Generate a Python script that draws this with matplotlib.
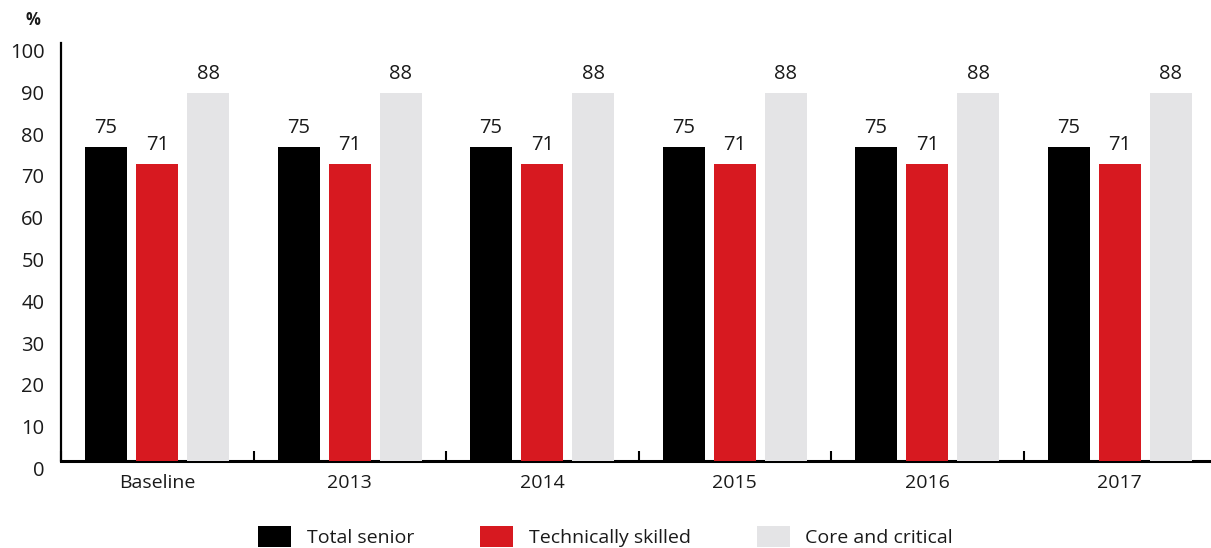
import numpy as np
import matplotlib
matplotlib.use("Agg")
import matplotlib.pyplot as plt
from matplotlib.patches import Patch
from matplotlib.transforms import ScaledTranslation

plt.rcParams['font.family'] = ['Open Sans', 'DejaVu Sans']

categories = ["Baseline", "2013", "2014", "2015", "2016", "2017"]
series_names = ["Total senior", "Technically skilled", "Core and critical"]
total_senior = [75, 75, 75, 75, 75, 75]
technically_skilled = [71, 71, 71, 71, 71, 71]
core_and_critical = [88, 88, 88, 88, 88, 88]
y_ticks = [0, 10, 20, 30, 40, 50, 60, 70, 80, 90, 100]

colors = ["#000000", "#d71920", "#e4e4e6"]
text_color = "#1a1a1a"

W, H = 1211, 548
fig = plt.figure(figsize=(W / 100, H / 100), dpi=100)
ax = fig.add_axes([61 / W, (H - 461) / H, (1216 - 61) / W, (461 - 43) / H])

x = np.arange(len(categories))
bar_w = 0.218
offsets = [-0.266, 0.0, 0.266]
all_series = [total_senior, technically_skilled, core_and_critical]

for vals, off, col, name in zip(all_series, offsets, colors, series_names):
    bars = ax.bar(x + off, vals, width=bar_w, color=col, zorder=3, label=name)
    for b, v in zip(bars, vals):
        ax.annotate(f"{v}", (b.get_x() + b.get_width() / 2, v),
                    xytext=(0, 6.5), textcoords="offset points",
                    ha="center", va="bottom", fontsize=14.5, color=text_color)

ax.set_xlim(-0.5, len(categories) - 0.5)
ax.set_ylim(0, 100)

for s in ["top", "right"]:
    ax.spines[s].set_visible(False)
ax.spines["left"].set_linewidth(1.6)
ax.spines["bottom"].set_linewidth(2.2)
ax.spines["left"].set_color("#000000")
ax.spines["bottom"].set_color("#000000")
ax.spines["bottom"].set_zorder(2)

# y axis: labels only, nudged slightly below their gridline
ax.set_yticks(y_ticks)
ax.tick_params(axis="y", length=0, pad=12, labelsize=14.5, labelcolor=text_color)
for lab in ax.get_yticklabels():
    lab.set_transform(lab.get_transform() + ScaledTranslation(0, -0.075, fig.dpi_scale_trans))

# x axis: small inward ticks between groups, labels at group centres
ax.set_xticks(x)
ax.set_xticklabels(categories)
ax.tick_params(axis="x", length=0, pad=9, labelsize=14, labelcolor=text_color)
ax.set_xticks(np.arange(len(categories)) - 0.5, minor=True)
ax.tick_params(axis="x", which="minor", direction="in", length=7, width=1.5, color="#000000")

fig.text(33 / W, 1 - 20 / H, "%", ha="center", va="center", fontsize=12,
         fontweight="bold", color=text_color)

handles = [Patch(facecolor=c, edgecolor="none") for c in colors]
fig.legend(handles, series_names, loc="lower center", bbox_to_anchor=(0.5, -0.03),
           ncol=3, frameon=False, fontsize=14, handlelength=1.7, handleheight=1.3,
           handletextpad=0.8, columnspacing=3.4, labelcolor=text_color)

fig.savefig("out.png", dpi=100)
